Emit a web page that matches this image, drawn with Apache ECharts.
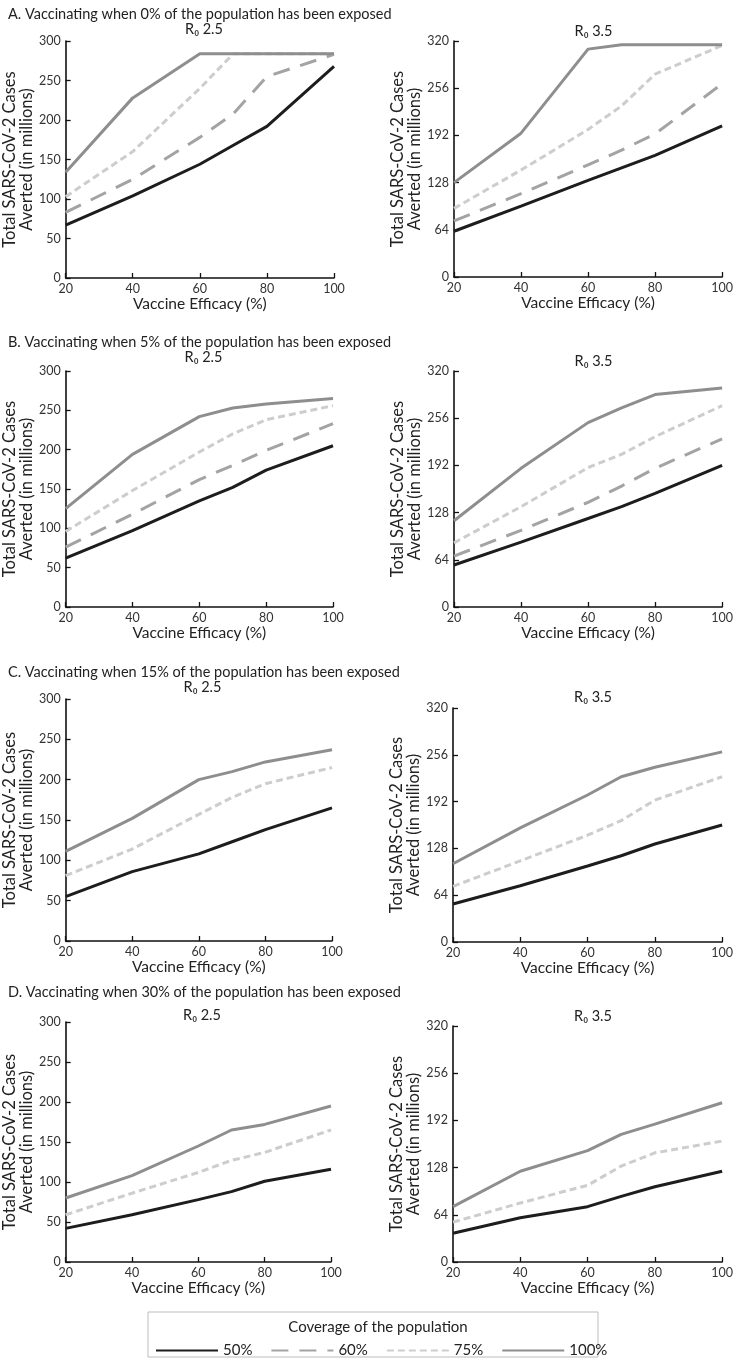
<!DOCTYPE html>
<html>
<head>
<meta charset="utf-8">
<script src="https://cdn.jsdelivr.net/npm/echarts@6/dist/echarts.min.js"></script>
<style>html,body{margin:0;padding:0;background:#fff}#c{width:736px;height:1361px}</style>
</head>
<body>
<div id="c"></div>
<script>
// x positions (vaccine efficacy, %)
const efficacy = [20, 40, 60, 70, 80, 100];
const xTicks = [20, 40, 60, 80, 100];
const coverageNames = ['50%', '60%', '75%', '100%'];
const rowTitles = [
  'A. Vaccinating when 0% of the population has been exposed',
  'B. Vaccinating when 5% of the population has been exposed',
  'C. Vaccinating when 15% of the population has been exposed',
  'D. Vaccinating when 30% of the population has been exposed'
];
const r0Labels = ['R\u2080 2.5', 'R\u2080 3.5'];

// Panel A (0% exposed)
const A25_50 = [67, 104, 144, 168, 192, 268];
const A25_60 = [83, 125, 178, 208, 255, 283];
const A25_75 = [103, 160, 240, 284, 284, 284];
const A25_100 = [134, 228, 284, 284, 284, 284];
const A35_50 = [62, 96, 131, 148, 165, 205];
const A35_60 = [76, 113, 152, 172, 194, 262];
const A35_75 = [93, 145, 200, 232, 275, 314];
const A35_100 = [128, 195, 309, 315, 315, 315];
// Panel B (5% exposed)
const B25_50 = [62, 97, 135, 152, 174, 205];
const B25_60 = [76, 118, 162, 180, 199, 233];
const B25_75 = [96, 148, 197, 220, 238, 256];
const B25_100 = [125, 194, 242, 253, 258, 265];
const B35_50 = [57, 88, 120, 136, 154, 192];
const B35_60 = [69, 104, 142, 164, 188, 228];
const B35_75 = [87, 136, 189, 207, 231, 273];
const B35_100 = [117, 188, 250, 270, 288, 297];
// Panel C (15% exposed)
const C25_50 = [55, 86, 108, 123, 138, 165];
const C25_75 = [81, 114, 157, 178, 195, 215];
const C25_100 = [111, 152, 200, 210, 222, 237];
const C35_50 = [52, 77, 104, 118, 134, 160];
const C35_75 = [76, 111, 146, 166, 194, 226];
const C35_100 = [107, 156, 201, 226, 239, 260];
// Panel D (30% exposed)
const D25_50 = [42, 59, 78, 88, 101, 116];
const D25_75 = [59, 86, 112, 127, 137, 165];
const D25_100 = [80, 108, 145, 165, 172, 195];
const D35_50 = [39, 60, 75, 89, 102, 123];
const D35_75 = [54, 80, 104, 130, 148, 164];
const D35_100 = [75, 123, 151, 173, 187, 216];

const yMaxLeft = 300, yIntLeft = 50;
const yMaxRight = 320, yIntRight = 64;

const FONT = 'Lato';
const styles = {
  '50%':  {color: '#1d1d1d', type: 'solid'},
  '60%':  {color: '#a3a3a3', type: [17, 11]},
  '75%':  {color: '#cdcdcd', type: [7, 4]},
  '100%': {color: '#8e8e8e', type: 'solid'}
};

const panels = [
  [0, 0, {'50%': A25_50, '60%': A25_60, '75%': A25_75, '100%': A25_100}],
  [0, 1, {'50%': A35_50, '60%': A35_60, '75%': A35_75, '100%': A35_100}],
  [1, 0, {'50%': B25_50, '60%': B25_60, '75%': B25_75, '100%': B25_100}],
  [1, 1, {'50%': B35_50, '60%': B35_60, '75%': B35_75, '100%': B35_100}],
  [2, 0, {'50%': C25_50, '75%': C25_75, '100%': C25_100}],
  [2, 1, {'50%': C35_50, '75%': C35_75, '100%': C35_100}],
  [3, 0, {'50%': D25_50, '75%': D25_75, '100%': D25_100}],
  [3, 1, {'50%': D35_50, '75%': D35_75, '100%': D35_100}]
];

// layout geometry
const gridBoxes = [
  {left: 64, top: 41, width: 270, height: 237},
  {left: 454, top: 41, width: 269, height: 236},
  {left: 64, top: 371, width: 269, height: 236},
  {left: 454, top: 371, width: 269, height: 236},
  {left: 63, top: 699, width: 269, height: 242},
  {left: 453, top: 708, width: 270, height: 234},
  {left: 63, top: 1022, width: 268, height: 240},
  {left: 453, top: 1026, width: 270, height: 236}
];
const rowTitleTop = [2, 330, 660, 980];
const subTop = [[17, 19], [345, 349], [675, 685], [1003, 1004]];

const grid = [], xAxis = [], yAxis = [], series = [], title = [];
panels.forEach((p, i) => {
  const [row, col, map] = p;
  const g = gridBoxes[i];
  grid.push(Object.assign({containLabel: false}, g));
  xAxis.push({
    type: 'value', gridIndex: i, min: 20, max: 100, interval: 20,
    name: 'Vaccine Efficacy (%)', nameLocation: 'middle', nameGap: 18,
    nameTextStyle: {fontFamily: FONT, fontSize: 15.5, color: '#222'},
    axisLine: {lineStyle: {color: '#111', width: 1.6}},
    axisTick: {inside: true, length: 5, lineStyle: {color: '#111', width: 1.3}},
    axisLabel: {fontFamily: FONT, fontSize: 12.5, color: '#333', margin: 4},
    splitLine: {show: false}
  });
  const isLeft = col === 0;
  yAxis.push({
    type: 'value', gridIndex: i, min: 0,
    max: isLeft ? yMaxLeft : yMaxRight, interval: isLeft ? yIntLeft : yIntRight,
    name: 'Total SARS-CoV-2 Cases\nAverted (in millions)', nameLocation: 'middle', nameGap: 29,
    nameTextStyle: {fontFamily: FONT, fontSize: 16.5, color: '#222', lineHeight: 17},
    axisLine: {show: true, lineStyle: {color: '#111', width: 1.6}},
    axisTick: {show: true, inside: true, length: 5, lineStyle: {color: '#111', width: 1.3}},
    axisLabel: {fontFamily: FONT, fontSize: 12.5, color: '#333', margin: 5},
    splitLine: {show: false}
  });
  Object.keys(map).forEach(name => {
    series.push({
      type: 'line', name: name, xAxisIndex: i, yAxisIndex: i,
      data: efficacy.map((x, k) => [x, map[name][k]]),
      symbol: 'none', silent: true,
      lineStyle: {color: styles[name].color, type: styles[name].type, width: 3},
      itemStyle: {color: styles[name].color},
      z: name === '50%' ? 5 : 3
    });
  });
  title.push({
    text: r0Labels[col], left: g.left + g.width / 2, top: subTop[row][col], textAlign: 'center',
    textStyle: {fontFamily: FONT, fontSize: 14.5, fontWeight: 'normal', color: '#222'}
  });
});
rowTitles.forEach((t, r) => {
  title.push({
    text: t, left: 3, top: rowTitleTop[r],
    textStyle: {fontFamily: FONT, fontSize: 14.5, fontWeight: 'normal', color: '#222'}
  });
});
title.push({
  text: 'Coverage of the population', left: 373, top: 1315, textAlign: 'center',
  textStyle: {fontFamily: FONT, fontSize: 15, fontWeight: 'normal', color: '#222'}
});

const chart = echarts.init(document.getElementById('c'), null, {renderer: 'canvas'});
chart.setOption({
  animation: false,
  backgroundColor: '#fff',
  title: title,
  grid: grid, xAxis: xAxis, yAxis: yAxis, series: series,
  legend: {
    data: coverageNames, left: 150, top: 1338,
    itemWidth: 62, itemHeight: 12, itemGap: 18,
    itemStyle: {opacity: 0},
    textStyle: {fontFamily: FONT, fontSize: 15, color: '#222'},
    selectedMode: false
  },
  graphic: [{
    type: 'rect', shape: {x: 148, y: 1312, width: 450, height: 45},
    style: {fill: 'none', stroke: '#bdbdbd', lineWidth: 1}, z: -1
  }]
});
</script>
</body>
</html>
